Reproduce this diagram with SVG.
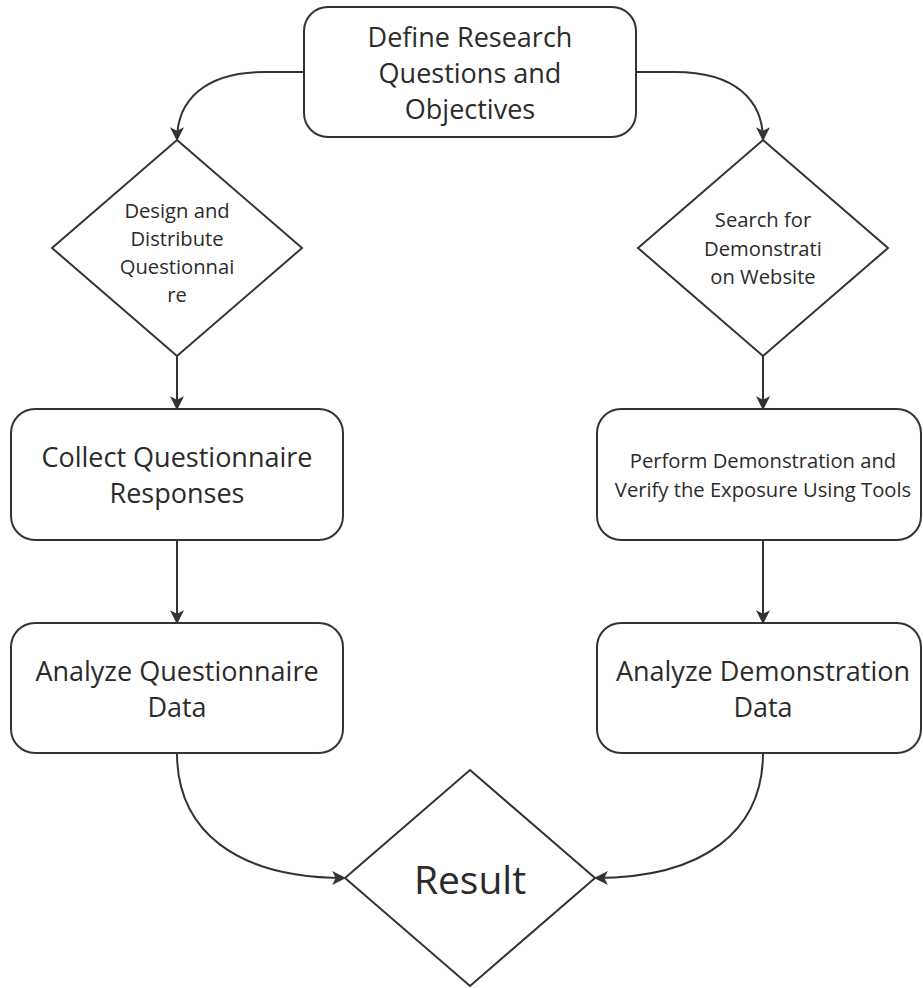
<svg xmlns="http://www.w3.org/2000/svg" width="923" height="988" viewBox="0 0 923 988">
  <defs>
    <marker id="arrow" viewBox="0 0 12 12" refX="11" refY="6" markerWidth="14" markerHeight="14" markerUnits="userSpaceOnUse" orient="auto">
      <path d="M0,0 L12,6 L0,12 L3,6 z" fill="#333"/>
    </marker>
    <style>
      .shape { fill: #fff; stroke: #333; stroke-width: 2; }
      .edge { fill: none; stroke: #333; stroke-width: 2; marker-end: url(#arrow); }
      text { font-family: "Open Sans", "Noto Sans", "Liberation Sans", sans-serif; fill: #2b2b2b; text-anchor: middle; }
      .big { font-size: 27px; }
      .small { font-size: 20.2px; }
      .result { font-size: 39px; }
    </style>
  </defs>
  <rect width="923" height="988" fill="#fff"/>

  <g id="connectors">
    <path class="edge" d="M304,72 L265,72 C205,72 177,100 177,140"/>
    <path class="edge" d="M636,72 L675,72 C735,72 763,100 763,140"/>
    <path class="edge" d="M177,356 L177,409"/>
    <path class="edge" d="M763,356 L763,409"/>
    <path class="edge" d="M177,540 L177,623"/>
    <path class="edge" d="M763,540 L763,623"/>
    <path class="edge" d="M177,753 C177,830 235,878 345,878"/>
    <path class="edge" d="M763,753 C763,830 705,878 595,878"/>
  </g>

  <g id="define">
    <rect class="shape" x="304" y="7" width="332" height="130" rx="24"/>
    <text class="big" x="470" y="47">Define Research</text>
    <text class="big" x="470" y="83">Questions and</text>
    <text class="big" x="470" y="119">Objectives</text>
  </g>

  <g id="design">
    <polygon class="shape" points="177,140 302,248 177,356 52,248"/>
    <text class="small" x="177" y="218">Design and</text>
    <text class="small" x="177" y="246">Distribute</text>
    <text class="small" x="177" y="274">Questionnai</text>
    <text class="small" x="177" y="302">re</text>
  </g>

  <g id="search">
    <polygon class="shape" points="763,140 888,248 763,356 638,248"/>
    <text class="small" x="763" y="227">Search for</text>
    <text class="small" x="763" y="256">Demonstrati</text>
    <text class="small" x="763" y="284">on Website</text>
  </g>

  <g id="collect">
    <rect class="shape" x="11" y="409" width="332" height="131" rx="24"/>
    <text class="big" x="177" y="467">Collect Questionnaire</text>
    <text class="big" x="177" y="503">Responses</text>
  </g>

  <g id="perform">
    <rect class="shape" x="597" y="409" width="324" height="131" rx="24"/>
    <text class="small" x="763" y="468">Perform Demonstration and</text>
    <text class="small" x="763" y="497">Verify the Exposure Using Tools</text>
  </g>

  <g id="analyzeQ">
    <rect class="shape" x="11" y="623" width="332" height="130" rx="24"/>
    <text class="big" x="177" y="681">Analyze Questionnaire</text>
    <text class="big" x="177" y="717">Data</text>
  </g>

  <g id="analyzeD">
    <rect class="shape" x="597" y="623" width="324" height="130" rx="24"/>
    <text class="big" x="763" y="681">Analyze Demonstration</text>
    <text class="big" x="763" y="717">Data</text>
  </g>

  <g id="result">
    <polygon class="shape" points="470,770 595,878 470,986 345,878"/>
    <text class="result" x="470" y="894">Result</text>
  </g>
</svg>
